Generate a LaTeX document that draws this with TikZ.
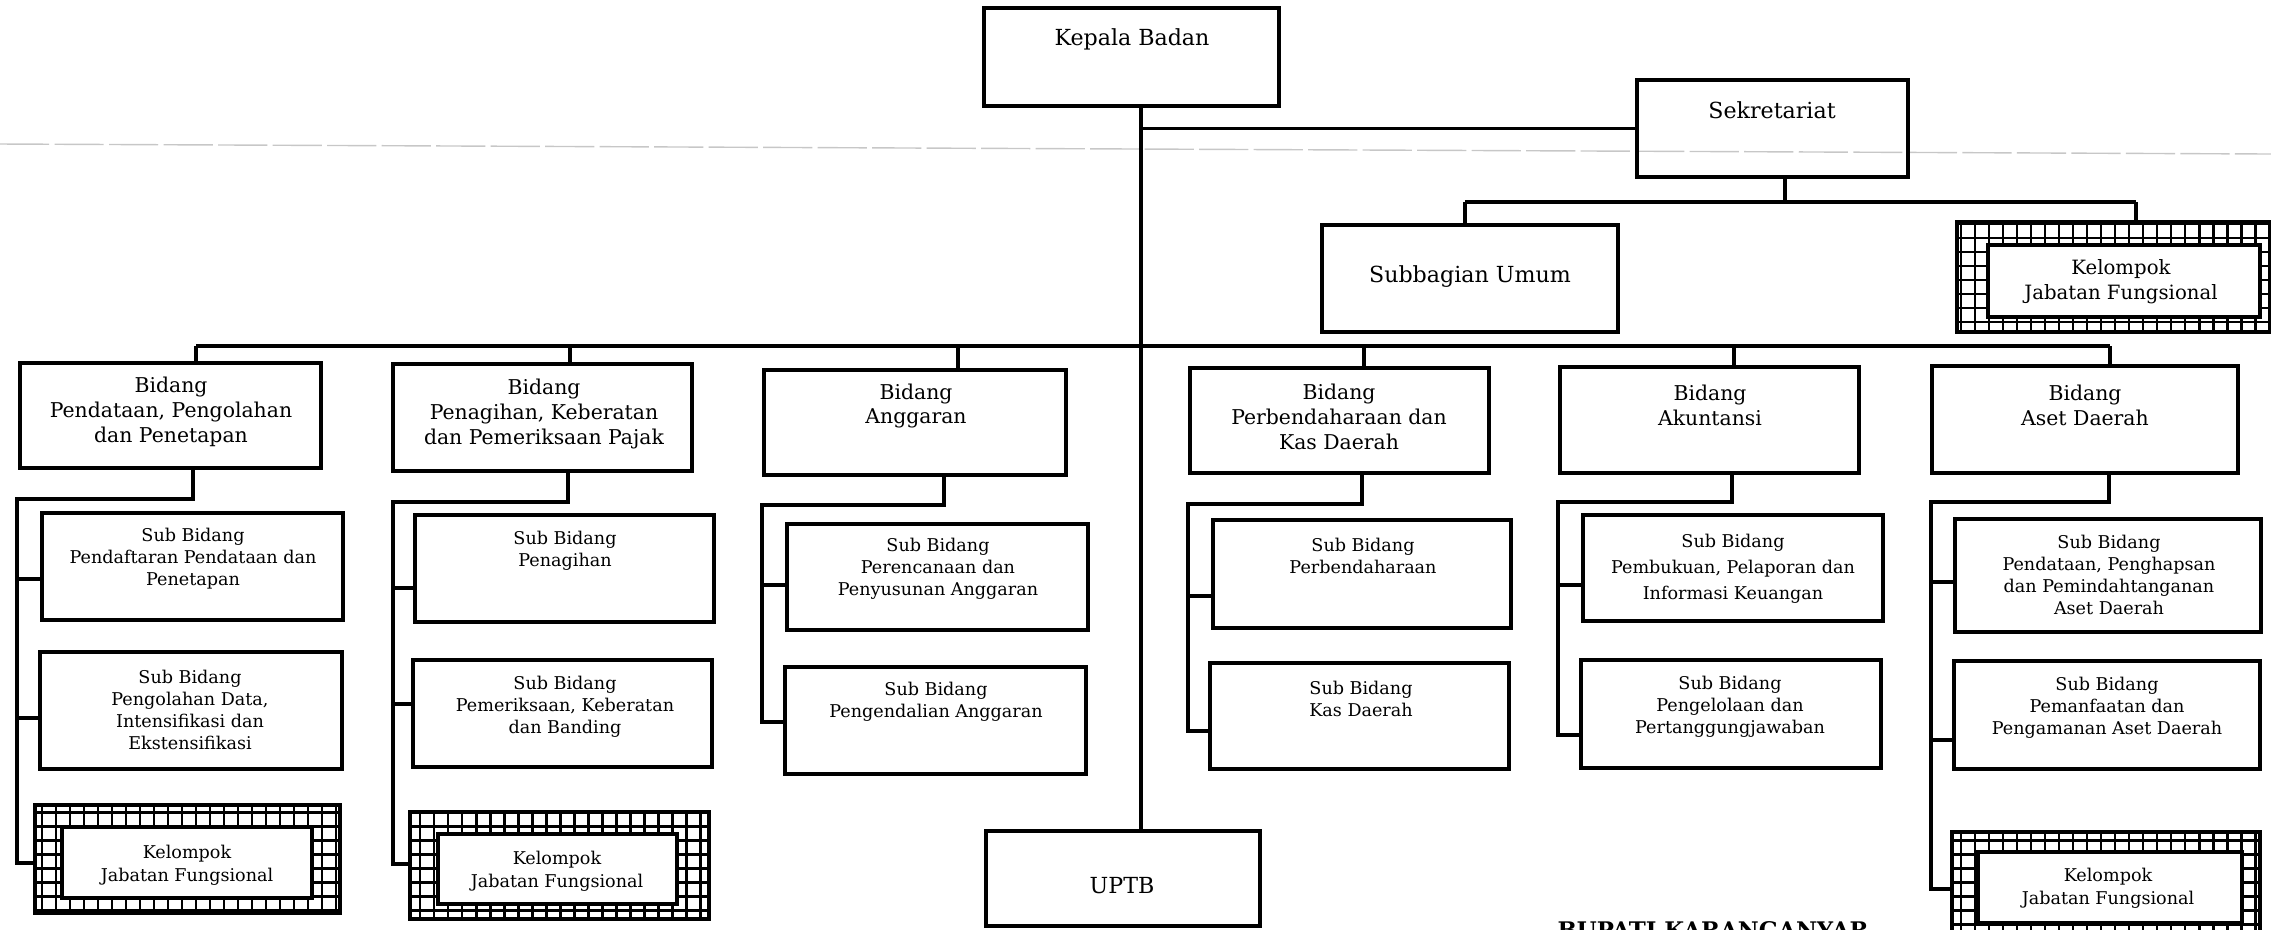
\documentclass[tikz,border=0pt]{standalone}
\usepackage{fontspec}
\setmainfont{DejaVu Serif}
\usetikzlibrary{fit}
\begin{document}
\begin{tikzpicture}[x=0.01cm,y=-0.01cm,
  bx/.style={draw, line width=1.2pt, inner sep=0pt},
  ln/.style={line width=1pt},
  txt/.style={align=center, inner sep=0pt},
  big/.style={txt, font=\fontsize{6.3}{7.5}\selectfont},
  bid/.style={txt, font=\fontsize{5.8}{7.1}\selectfont},
  sub/.style={txt, font=\fontsize{5.0}{6.26}\selectfont},
  kel/.style={txt, font=\fontsize{5.0}{6.6}\selectfont},
  grd/.style={line width=0.7pt},
]
\useasboundingbox (0,0) rectangle (2271,929);
% faint scan line
\path[draw=black!22, line width=0.4pt, dash pattern=on 14pt off 1.5pt] (0,144) -- (2271,154);

% ---------- top level ----------
\node[bx, fit={(984,8) (1279,106)}] (kepala) {};
\node[big] (kepalat) at (1132,39) {Kepala Badan};
\node[bx, fit={(1637,80) (1908,177)}] (sekre) {};
\node[big] (sekret) at (1772,110) {Sekretariat};
\node[bx, fit={(1322,225) (1618,332)}] (subum) {};
\node[big] (subumt) at (1470,277) {Subbagian Umum};
\node[bx, fit={(986,831) (1260,926)}] (uptb) {};
\node[big] (uptbt) at (1122,886) {UPTB};

% ---------- kelompok boxes (grid border) ----------
\begin{scope}
 \clip (1957,222) rectangle (2291,332);
 \draw[grd, step=0.14cm] (1957,222) grid (2291,332);
\end{scope}
\node[bx, fill=white, fit={(1988,245) (2260,317)}] (kjf0i) {};
\node[bx, fit={(1957,222) (2291,332)}] (kjf0) {};
\node[kel, font=\fontsize{5.6}{7.1}\selectfont] (kjf0t) at (2121,282) {Kelompok\\Jabatan Fungsional};

\begin{scope}
 \clip (35,805) rectangle (340,913);
 \draw[grd, step=0.14cm] (35,805) grid (340,913);
\end{scope}
\node[bx, fill=white, fit={(62,827) (312,898)}] (k1i) {};
\node[bx, fit={(35,805) (340,913)}] (k1) {};
\node[kel] (k1t) at (187,865) {Kelompok\\Jabatan Fungsional};

\begin{scope}
 \clip (410,812) rectangle (709,919);
 \draw[grd, step=0.14cm] (410,812) grid (709,919);
\end{scope}
\node[bx, fill=white, fit={(438,834) (677,904)}] (k2i) {};
\node[bx, fit={(410,812) (709,919)}] (k2) {};
\node[kel] (k2t) at (557,871) {Kelompok\\Jabatan Fungsional};

\begin{scope}
 \clip (1952,832) rectangle (2260,945);
 \draw[grd, step=0.14cm] (1952,832) grid (2260,945);
\end{scope}
\node[bx, fill=white, fit={(1978,852) (2242,923)}] (k6i) {};
\node[bx, fit={(1952,832) (2260,945)}] (k6) {};
\node[kel] (k6t) at (2108,888) {Kelompok\\Jabatan Fungsional};

% ---------- bidang ----------
\node[bx, fit={(20,363) (321,468)}] (b1) {};
\node[bid] (b1t) at (171,412) {Bidang\\Pendataan, Pengolahan\\dan Penetapan};
\node[bx, fit={(393,364) (692,471)}] (b2) {};
\node[bid] (b2t) at (544,414) {Bidang\\Penagihan, Keberatan\\dan Pemeriksaan Pajak};
\node[bx, fit={(764,370) (1066,475)}] (b3) {};
\node[bid] (b3t) at (916,406) {Bidang\\Anggaran};
\node[bx, fit={(1190,368) (1489,473)}] (b4) {};
\node[bid] (b4t) at (1339,417) {Bidang\\Perbendaharaan dan\\Kas Daerah};
\node[bx, fit={(1560,367) (1859,473)}] (b5) {};
\node[bid] (b5t) at (1710,405) {Bidang\\Akuntansi};
\node[bx, fit={(1932,366) (2238,473)}] (b6) {};
\node[bid] (b6t) at (2085,405) {Bidang\\Aset Daerah};

% ---------- sub bidang ----------
\node[bx, fit={(42,513) (343,620)}] (s11) {};
\node[sub] (s11t) at (193,559) {Sub Bidang\\Pendaftaran Pendataan dan\\Penetapan};
\node[bx, fit={(40,652) (342,769)}] (s12) {};
\node[sub] (s12t) at (190,710) {Sub Bidang\\Pengolahan Data,\\Intensifikasi dan\\Ekstensifikasi};

\node[bx, fit={(415,515) (714,622)}] (s21) {};
\node[sub] (s21t) at (565,551) {Sub Bidang\\Penagihan};
\node[bx, fit={(413,660) (712,767)}] (s22) {};
\node[sub] (s22t) at (565,707) {Sub Bidang\\Pemeriksaan, Keberatan\\dan Banding};

\node[bx, fit={(787,524) (1088,630)}] (s31) {};
\node[sub] (s31t) at (938,569) {Sub Bidang\\Perencanaan dan\\Penyusunan Anggaran};
\node[bx, fit={(785,667) (1086,774)}] (s32) {};
\node[sub] (s32t) at (936,702) {Sub Bidang\\Pengendalian Anggaran};

\node[bx, fit={(1213,520) (1511,628)}] (s41) {};
\node[sub] (s41t) at (1363,556) {Sub Bidang\\Perbendaharaan};
\node[bx, fit={(1210,663) (1509,769)}] (s42) {};
\node[sub] (s42t) at (1361,699) {Sub Bidang\\Kas Daerah};

\node[bx, fit={(1583,515) (1883,621)}] (s51) {};
\node[sub, font=\fontsize{5.0}{7.4}\selectfont] (s51t) at (1733,569) {Sub Bidang\\Pembukuan, Pelaporan dan\\Informasi Keuangan};
\node[bx, fit={(1581,660) (1881,768)}] (s52) {};
\node[sub] (s52t) at (1730,707) {Sub Bidang\\Pengelolaan dan\\Pertanggungjawaban};

\node[bx, fit={(1955,519) (2261,632)}] (s61) {};
\node[sub] (s61t) at (2109,575) {Sub Bidang\\Pendataan, Penghapsan\\dan Pemindahtanganan\\Aset Daerah};
\node[bx, fit={(1954,661) (2260,769)}] (s62) {};
\node[sub] (s62t) at (2107,708) {Sub Bidang\\Pemanfaatan dan\\Pengamanan Aset Daerah};

% bottom caption, cut off by the lower edge as in the scan
\node[anchor=north, inner sep=0pt, font=\fontsize{6.5}{8}\bfseries] (bupati) at (1713,921) {BUPATI KARANGANYAR};

% ---------- connectors ----------
\coordinate (trx) at (1141,500);
\draw[ln] (kepala.south -| trx) -- (uptb.north -| trx);
\draw[ln] (sekre.west -| trx) -- (sekre.west);

\coordinate (sj) at (1785,202);
\coordinate (sa) at (1465,202);
\coordinate (sb) at (2136,202);
\draw[ln] (sekre.south -| sj) -- (sj);
\draw[ln] (sa) -- (sb);
\draw[ln] (sa) -- (sa |- subum.north);
\draw[ln] (sb) -- (sb |- kjf0.north);

\coordinate (d1) at (196,346);
\coordinate (d2) at (570,346);
\coordinate (d3) at (958,346);
\coordinate (d4) at (1364,346);
\coordinate (d5) at (1734,346);
\coordinate (d6) at (2110,346);
\draw[ln] (d1) -- (d6);
\foreach \d/\b in {d1/b1,d2/b2,d3/b3,d4/b4,d5/b5,d6/b6}
  \draw[ln] (\d) -- (\d |- \b.north);

% column 1
\coordinate (c1h) at (193,499);
\coordinate (c1v) at (17,499);
\coordinate (c1e) at (17,863);
\draw[ln] (b1.south -| c1h) -- (c1h) -- (c1v) -- (c1e) -- (c1e -| k1.west);
\coordinate (c1a) at (17,579);
\coordinate (c1b) at (17,718);
\draw[ln] (c1a) -- (c1a -| s11.west);
\draw[ln] (c1b) -- (c1b -| s12.west);

% column 2
\coordinate (c2h) at (568,502);
\coordinate (c2v) at (393,502);
\coordinate (c2e) at (393,864);
\draw[ln] (b2.south -| c2h) -- (c2h) -- (c2v) -- (c2e) -- (c2e -| k2.west);
\coordinate (c2a) at (393,588);
\coordinate (c2b) at (393,704);
\draw[ln] (c2a) -- (c2a -| s21.west);
\draw[ln] (c2b) -- (c2b -| s22.west);

% column 3
\coordinate (c3h) at (944,505);
\coordinate (c3v) at (762,505);
\coordinate (c3e) at (762,722);
\draw[ln] (b3.south -| c3h) -- (c3h) -- (c3v) -- (c3e) -- (c3e -| s32.west);
\coordinate (c3a) at (762,585);
\draw[ln] (c3a) -- (c3a -| s31.west);

% column 4
\coordinate (c4h) at (1362,504);
\coordinate (c4v) at (1188,504);
\coordinate (c4e) at (1188,731);
\draw[ln] (b4.south -| c4h) -- (c4h) -- (c4v) -- (c4e) -- (c4e -| s42.west);
\coordinate (c4a) at (1188,596);
\draw[ln] (c4a) -- (c4a -| s41.west);

% column 5
\coordinate (c5h) at (1732,502);
\coordinate (c5v) at (1558,502);
\coordinate (c5e) at (1558,735);
\draw[ln] (b5.south -| c5h) -- (c5h) -- (c5v) -- (c5e) -- (c5e -| s52.west);
\coordinate (c5a) at (1558,585);
\draw[ln] (c5a) -- (c5a -| s51.west);

% column 6
\coordinate (c6h) at (2109,502);
\coordinate (c6v) at (1931,502);
\coordinate (c6e) at (1931,889);
\draw[ln] (b6.south -| c6h) -- (c6h) -- (c6v) -- (c6e) -- (c6e -| k6.west);
\coordinate (c6a) at (1931,582);
\coordinate (c6b) at (1931,740);
\draw[ln] (c6a) -- (c6a -| s61.west);
\draw[ln] (c6b) -- (c6b -| s62.west);
\end{tikzpicture}
\end{document}
